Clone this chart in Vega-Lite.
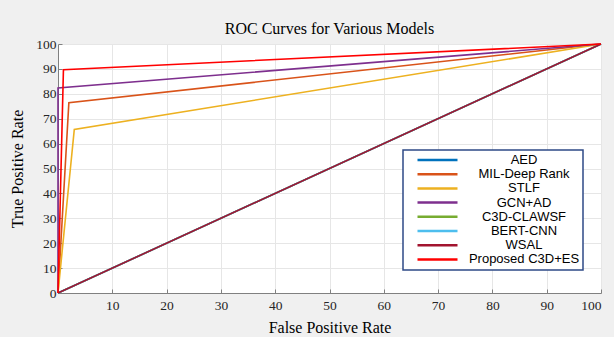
{
  "$schema": "https://vega.github.io/schema/vega-lite/v6.json",
  "width": 543,
  "height": 249,
  "autosize": {"type": "none"},
  "padding": {"left": 58, "top": 44, "right": 13, "bottom": 44},
  "background": "#f0f0f0",
  "title": {"text": "ROC Curves for Various Models", "frame": "group", "offset": -13, "baseline": "alphabetic", "font": "Liberation Serif", "fontSize": 16, "fontWeight": "normal", "color": "#000000"},
  "config": {"view": {"fill": "#ffffff", "stroke": null}},
  "data": {"values": [
    {"model": "AED", "fpr": 0, "tpr": 0},
    {"model": "AED", "fpr": 100, "tpr": 100},
    {"model": "MIL-Deep Rank", "fpr": 0, "tpr": 0},
    {"model": "MIL-Deep Rank", "fpr": 2, "tpr": 76.4},
    {"model": "MIL-Deep Rank", "fpr": 100, "tpr": 100},
    {"model": "STLF", "fpr": 0, "tpr": 0},
    {"model": "STLF", "fpr": 3, "tpr": 65.7},
    {"model": "STLF", "fpr": 100, "tpr": 100},
    {"model": "GCN+AD", "fpr": 0, "tpr": 0},
    {"model": "GCN+AD", "fpr": 0, "tpr": 82.3},
    {"model": "GCN+AD", "fpr": 100, "tpr": 100},
    {"model": "C3D-CLAWSF", "fpr": 0, "tpr": 0},
    {"model": "C3D-CLAWSF", "fpr": 100, "tpr": 100},
    {"model": "BERT-CNN", "fpr": 0, "tpr": 0},
    {"model": "BERT-CNN", "fpr": 100, "tpr": 100},
    {"model": "WSAL", "fpr": 0, "tpr": 0},
    {"model": "WSAL", "fpr": 100, "tpr": 100},
    {"model": "Proposed C3D+ES", "fpr": 0, "tpr": 0},
    {"model": "Proposed C3D+ES", "fpr": 1, "tpr": 89.7},
    {"model": "Proposed C3D+ES", "fpr": 100, "tpr": 100}
  ]},
  "mark": {"type": "line", "strokeWidth": 1.6},
  "encoding": {
    "x": {"field": "fpr", "type": "quantitative", "scale": {"domain": [0, 100], "nice": false},
      "axis": {"title": "False Positive Rate", "values": [10, 20, 30, 40, 50, 60, 70, 80, 90, 100],
        "titleFont": "Liberation Serif", "titleFontSize": 16, "titleFontWeight": "normal", "titleColor": "#000000",
        "titleY": 34, "titleBaseline": "middle",
        "labelFont": "Liberation Serif", "labelFontSize": 13.5, "labelColor": "#262626", "labelPadding": 9,
        "domainColor": "#808080", "tickColor": "#808080", "tickSize": -4, "gridColor": "#e6e6e6"}},
    "y": {"field": "tpr", "type": "quantitative", "scale": {"domain": [0, 100], "nice": false},
      "axis": {"title": "True Positive Rate", "values": [0, 10, 20, 30, 40, 50, 60, 70, 80, 90, 100],
        "titleFont": "Liberation Serif", "titleFontSize": 16, "titleFontWeight": "normal", "titleColor": "#000000",
        "titleX": -41, "titleBaseline": "middle",
        "labelFont": "Liberation Serif", "labelFontSize": 13.5, "labelColor": "#262626", "labelPadding": 6,
        "domainColor": "#808080", "tickColor": "#808080", "tickSize": -4, "gridColor": "#e6e6e6"}},
    "color": {"field": "model", "type": "nominal",
      "scale": {"domain": ["AED", "MIL-Deep Rank", "STLF", "GCN+AD", "C3D-CLAWSF", "BERT-CNN", "WSAL", "Proposed C3D+ES"],
        "range": ["#0072BD", "#D95319", "#EDB120", "#7E2F8E", "#77AC30", "#4DBEEE", "#A2142F", "#FF0000"]},
      "legend": {"title": null, "orient": "none", "legendX": 345, "legendY": 106,
        "symbolType": "M-4,0H4", "symbolSize": 100, "symbolStrokeWidth": 2.5, "symbolOffset": 24.5,
        "labelFont": "Liberation Sans", "labelFontSize": 13, "labelColor": "#000000", "labelAlign": "center", "labelOffset": 80,
        "rowPadding": 0.2, "padding": 3.5, "strokeColor": "#2E4A86", "fillColor": "#ffffff", "labelLimit": 300,
        "encode": {"legend": {"update": {"strokeWidth": {"value": 1.5}}}}}},
    "order": {"field": "fpr"}
  }
}
